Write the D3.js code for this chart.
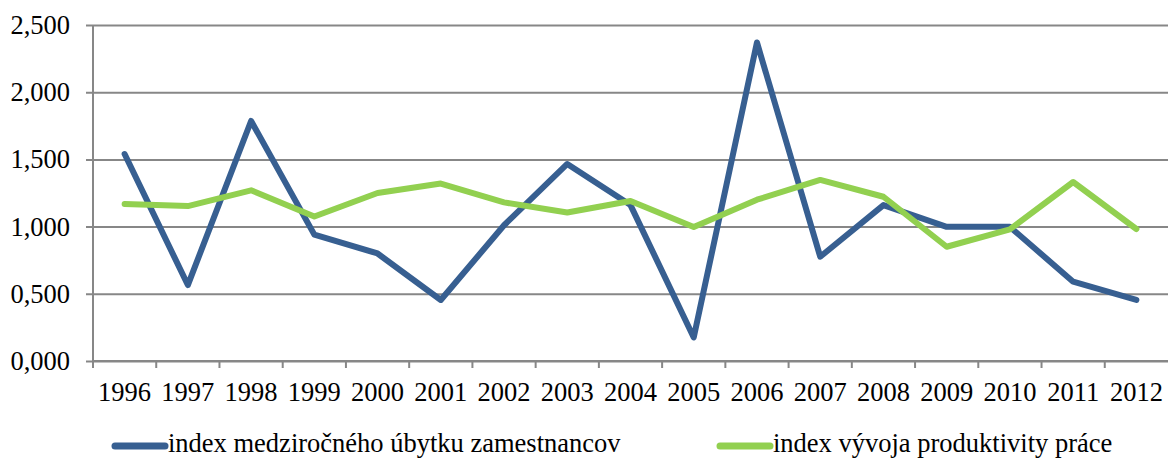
<!DOCTYPE html>
<html>
<head>
<meta charset="utf-8">
<script src="https://cdn.jsdelivr.net/npm/d3@7"></script>
<style>
  body { margin: 0; background: #fff; }
</style>
</head>
<body>
<svg id="chart" width="1168" height="459"></svg>
<script>
const years = ['1996', '1997', '1998', '1999', '2000', '2001', '2002', '2003', '2004',
    '2005', '2006', '2007', '2008', '2009', '2010', '2011', '2012']
const ubytok = [1.540, 0.565, 1.786, 0.940, 0.800, 0.454, 1.010, 1.466, 1.160,
    0.175, 2.370, 0.776, 1.160, 0.998, 0.998, 0.590, 0.454]
const produktivita = [1.168, 1.153, 1.270, 1.075, 1.250, 1.320, 1.180, 1.105, 1.190,
    0.997, 1.200, 1.347, 1.222, 0.850, 0.980, 1.332, 0.982]
const yTicks = [0, 0.5, 1, 1.5, 2, 2.5]
const seriesNames = ['index medziročného úbytku zamestnancov', 'index vývoja produktivity práce']

const fontFamily = "'Liberation Serif', 'Times New Roman', Times, serif"
const fontSize = '26.5px'

const margin = { top: 25, right: 0, bottom: 98, left: 93 }
const width = 1168 - margin.left - margin.right
const height = 459 - margin.top - margin.bottom

const svg = d3.select('#chart')
const g = svg.append('g')
    .attr('transform', `translate(${margin.left}, ${margin.top})`)

const x = d3.scaleBand()
    .domain(years)
    .range([0, width])

const y = d3.scaleLinear()
    .domain([0, 2.5])
    .range([height, 0])

const gridColor = '#878787'
const fmt = d => d3.format('.3f')(d).replace('.', ',')

// horizontal gridlines + y axis
const yAxis = d3.axisLeft(y)
    .tickValues(yTicks)
    .tickSize(-width)
    .tickFormat(fmt)
    .tickPadding(23)

g.append('g')
    .classed('y-axis', true)
    .call(yAxis)
    .attr('font-family', fontFamily)
    .call(s => s.select('.domain').remove())
    .call(s => s.selectAll('.tick line')
        .attr('x1', -7)
        .attr('stroke', gridColor)
        .attr('stroke-width', 2))
    .call(s => s.selectAll('.tick text')
        .style('font-family', fontFamily)
        .style('font-size', fontSize)
        .attr('fill', '#000'))

g.append('line')
    .attr('x1', 0).attr('x2', 0)
    .attr('y1', 0).attr('y2', height)
    .attr('stroke', gridColor)
    .attr('stroke-width', 2)

// x axis with ticks at category boundaries
const xAxis = d3.axisBottom(x)
    .tickSize(0)
    .tickPadding(21)

const xg = g.append('g')
    .classed('x-axis', true)
    .attr('transform', `translate(0, ${height})`)
    .call(xAxis)
    .attr('font-family', fontFamily)
    .call(s => s.select('.domain').remove())
    .call(s => s.selectAll('.tick text')
        .style('font-family', fontFamily)
        .style('font-size', fontSize)
        .attr('fill', '#000'))

xg.append('line')
    .attr('x1', 0).attr('x2', width)
    .attr('stroke', gridColor)
    .attr('stroke-width', 2)

xg.selectAll('.bound')
    .data(years)
    .join('line')
    .classed('bound', true)
    .attr('x1', d => x(d))
    .attr('x2', d => x(d))
    .attr('y1', 0)
    .attr('y2', 7)
    .attr('stroke', gridColor)
    .attr('stroke-width', 2)

// lines
const colors = ['#375f91', '#92d050']
const line = d3.line()
    .x((d, i) => x(years[i]) + x.bandwidth() / 2)
    .y(d => y(d))

;[ubytok, produktivita].forEach((data, i) => {
    g.append('path')
        .datum(data)
        .attr('fill', 'none')
        .attr('stroke', colors[i])
        .attr('stroke-width', 6)
        .attr('stroke-linejoin', 'round')
        .attr('stroke-linecap', 'round')
        .attr('d', line)
})

// legend
const legendX = [112, 717]
const legend = svg.append('g')
    .attr('transform', 'translate(0, 446)')

seriesNames.forEach((name, i) => {
    legend.append('line')
        .attr('x1', legendX[i] + 3)
        .attr('x2', legendX[i] + 53)
        .attr('stroke', colors[i])
        .attr('stroke-width', 7)
        .attr('stroke-linecap', 'round')
    legend.append('text')
        .attr('x', legendX[i] + 56)
        .attr('y', 6)
        .style('font-family', fontFamily)
        .style('font-size', fontSize)
        .text(name)
})
</script>
</body>
</html>
